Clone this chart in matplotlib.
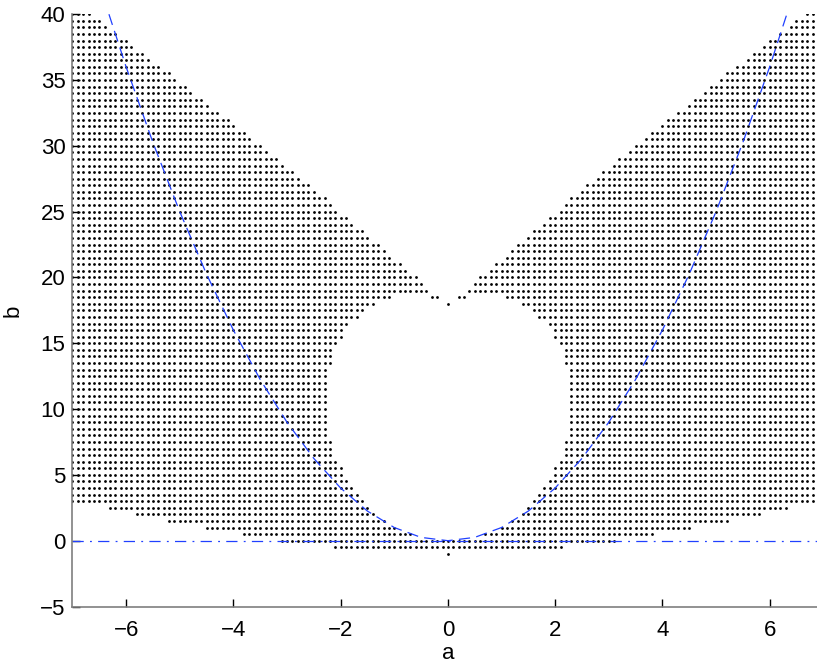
import numpy as np
import matplotlib
matplotlib.use("Agg")
import matplotlib.pyplot as plt

plt.rcParams["font.family"] = ["Liberation Sans", "DejaVu Sans"]

# the dots sit on a grid: a in steps of 0.1, b in steps of 0.5
a_grid = np.arange(-70, 71) / 10

# bottom rows: dots stop at this |a|
low_b = [-1.0, -0.5, 0.0, 0.5, 1.0, 1.5, 2.0, 2.5]
low_outer = [0.0, 2.1, 3.1, 3.8, 4.5, 5.2, 5.8, 6.3]

# round hole in the middle: first |a| with a dot on each row
hole_b = np.arange(0.5, 19.0, 0.5)
hole_inner = [0.7, 1.0, 1.2, 1.4, 1.5, 1.6, 1.7, 1.8, 1.9, 2.0,
              2.0, 2.1, 2.2, 2.2, 2.2, 2.3, 2.3, 2.3, 2.3, 2.3,
              2.3, 2.3, 2.3, 2.3, 2.3, 2.3, 2.2, 2.2, 2.2, 2.1,
              2.0, 2.0, 1.9, 1.7, 1.6, 1.4, 1.1]

# V shaped gap at the top
notch_b = np.arange(19.0, 40.5, 0.5)
notch_inner = [0.4, 0.5, 0.6, 0.8, 0.9, 1.1, 1.2, 1.3, 1.5, 1.6,
               1.8, 1.9, 2.1, 2.2, 2.3, 2.5, 2.6, 2.8, 2.9, 3.1,
               3.2, 3.4, 3.5, 3.7, 3.8, 4.0, 4.1, 4.3, 4.5, 4.6,
               4.8, 4.9, 5.1, 5.2, 5.4, 5.6, 5.7, 5.9, 6.0, 6.2,
               6.4, 6.5, 6.7]

# stray dots at the tip of the V
extra_a = [0.0, -0.3, -0.2, 0.2, 0.3]
extra_b = [18.0, 18.5, 18.5, 18.5, 18.5]

# dashed curve b = a^2
curve_a = [-6.32, -6.0, -5.5, -5.0, -4.5, -4.0, -3.5, -3.0, -2.5, -2.0, -1.5,
           -1.0, -0.5, 0.0, 0.5, 1.0, 1.5, 2.0, 2.5, 3.0, 3.5, 4.0, 4.5, 5.0,
           5.5, 6.0, 6.32]
curve_b = [40.0, 36.0, 30.25, 25.0, 20.25, 16.0, 12.25, 9.0, 6.25, 4.0, 2.25,
           1.0, 0.25, 0.0, 0.25, 1.0, 2.25, 4.0, 6.25, 9.0, 12.25, 16.0, 20.25,
           25.0, 30.25, 36.0, 40.0]

inner = {}
outer = {}
for b, v in zip(low_b, low_outer):
    outer[round(float(b), 1)] = v
for b, v in zip(hole_b, hole_inner):
    inner[round(float(b), 1)] = v
for b, v in zip(notch_b, notch_inner):
    inner[round(float(b), 1)] = v

pa, pb = [], []
for b in sorted(set(inner) | set(outer)):
    keep = (np.abs(a_grid) >= inner.get(b, 0.0) - 1e-6) & (np.abs(a_grid) <= outer.get(b, 7.0) + 1e-6)
    pa.extend(a_grid[keep])
    pb.extend([b] * int(keep.sum()))
pa += extra_a
pb += extra_b

fig = plt.figure(figsize=(8.17, 6.67), dpi=100)
ax = fig.add_axes([0.0887, 0.0907, 0.919, 0.888])

ax.plot(pa, pb, "o", color="k", ms=2.0, mew=0, ls="none")
ax.plot(curve_a, curve_b, color="#2040ff", lw=0.9, ls=(0, (9, 5)))
ax.axhline(0, color="#2040ff", lw=0.9, ls=(0, (9, 5, 1.5, 5)))

ax.set_xlim(-7, 7)
ax.set_ylim(-5, 40)
ax.set_xticks(range(-6, 7, 2))
ax.set_yticks(range(-5, 41, 5))

for s in ["top", "right"]:
    ax.spines[s].set_visible(False)
for s in ["left", "bottom"]:
    ax.spines[s].set_color("#7f7f7f")
    ax.spines[s].set_linewidth(1.2)

ax.tick_params(direction="in", length=6, width=1, color="k", labelsize=16)
ax.tick_params(axis="y", pad=5)
ax.tick_params(axis="x", pad=10)
ax.set_xlabel("a", fontsize=16, labelpad=1)
ax.set_ylabel("b", fontsize=16, labelpad=12)

fig.savefig("out.png", dpi=100)
